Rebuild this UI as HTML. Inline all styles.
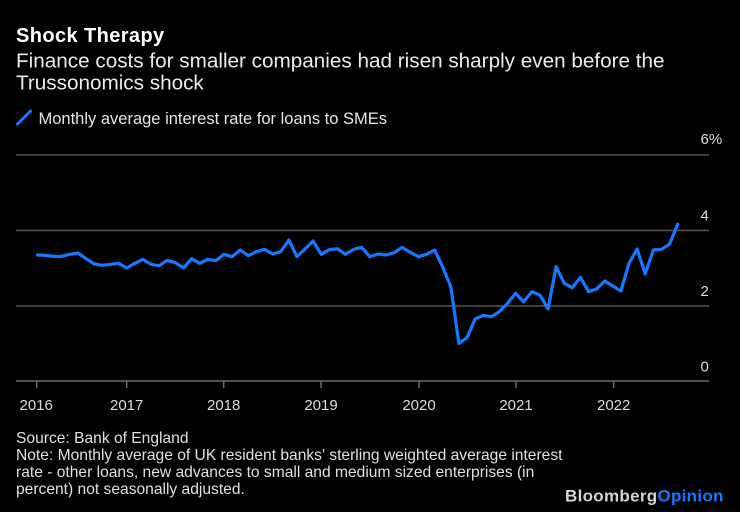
<!DOCTYPE html>
<html>
<head>
<meta charset="utf-8">
<style>
  html, body { margin: 0; padding: 0; background: #000; }
  body { width: 740px; height: 512px; overflow: hidden; }
  svg { display: block; }
  text { font-family: "Liberation Sans", Arial, sans-serif; }
</style>
</head>
<body>
<svg width="740" height="512" viewBox="0 0 740 512" xmlns="http://www.w3.org/2000/svg">
  <rect x="0" y="0" width="740" height="512" fill="#000"/>

  <!-- Title & subtitle -->
  <text x="16" y="42" font-size="20" font-weight="bold" fill="#ffffff" letter-spacing="0.4">Shock Therapy</text>
  <text x="16" y="67.5" font-size="20.7" fill="#ebebeb">Finance costs for smaller companies had risen sharply even before the</text>
  <text x="16" y="89.5" font-size="20.7" fill="#ebebeb">Trussonomics shock</text>

  <!-- Legend -->
  <line x1="17.5" y1="124" x2="30.5" y2="111" stroke="#1479ff" stroke-width="3" stroke-linecap="round"/>
  <text x="38.5" y="124" font-size="16.5" fill="#e6e6e6">Monthly average interest rate for loans to SMEs</text>

  <!-- Gridlines -->
  <g stroke="#555" stroke-width="1.5">
    <line x1="16" y1="155" x2="709" y2="155"/>
    <line x1="16" y1="230.5" x2="709" y2="230.5"/>
    <line x1="16" y1="306" x2="709" y2="306"/>
  </g>
  <line x1="16" y1="381" x2="709" y2="381" stroke="#6a6a6a" stroke-width="1.5"/>

  <!-- Ticks -->
  <g stroke="#6a6a6a" stroke-width="1.5">
    <line x1="36.7" y1="381" x2="36.7" y2="388"/>
    <line x1="126.7" y1="381" x2="126.7" y2="388"/>
    <line x1="223.7" y1="381" x2="223.7" y2="388"/>
    <line x1="321" y1="381" x2="321" y2="388"/>
    <line x1="419" y1="381" x2="419" y2="388"/>
    <line x1="516" y1="381" x2="516" y2="388"/>
    <line x1="613.7" y1="381" x2="613.7" y2="388"/>
  </g>

  <!-- X labels -->
  <g font-size="15" fill="#dcdcdc" text-anchor="middle">
    <text x="36.2" y="410">2016</text>
    <text x="126.7" y="410">2017</text>
    <text x="223.7" y="410">2018</text>
    <text x="321" y="410">2019</text>
    <text x="419" y="410">2020</text>
    <text x="516" y="410">2021</text>
    <text x="613.7" y="410">2022</text>
  </g>

  <!-- Y labels -->
  <g font-size="15" fill="#dcdcdc">
    <text x="700.5" y="144">6%</text>
    <text x="700.5" y="220.5">4</text>
    <text x="700.5" y="296">2</text>
    <text x="700.5" y="371.5">0</text>
  </g>

  <!-- Series -->
  <polyline fill="none" stroke="#1479ff" stroke-width="3.2" stroke-linejoin="round" stroke-linecap="round"
    points="37.4,255 45.5,255.3 53.6,256.3 61.7,256.3 69.8,254.3 78,253 86.1,258.7 94.2,264 102.3,265.3 110.4,264.3 118.6,263.3 126.7,268 134.8,263.3 142.9,259.3 151,264.3 159.1,265.7 167.2,260.3 175.4,262.7 183.5,268 191.6,258.7 199.7,263.3 207.8,259.3 215.9,260.7 224,254.3 232.1,256.7 240.2,250 248.3,255.7 256.4,251.7 264.5,249.3 272.6,254 280.7,251.7 288.8,240 296.9,256.7 305,249 313.1,241 321.2,254.3 329.3,249.7 337.4,248.7 345.5,254.3 353.6,249.3 361.7,247.3 369.8,256.7 377.9,254 386,255 394.1,252.7 402.2,247.3 410.3,252.3 418.4,256.7 426.5,254.3 434.6,250 442.7,267 450.8,286.7 458.9,343.5 467,337.7 475.1,319 483.2,315.3 491.3,316.7 499.4,311.7 507.5,303.3 515.6,293.3 523.7,301.7 531.8,291.7 539.9,295 548,309 556.1,266.7 564.2,283.3 572.3,287.7 580.4,277.3 588.5,291.7 596.6,289 604.7,281 612.8,286 620.9,291 629,263.3 637.1,249 645.2,274 653.3,250 661.4,249.3 669.5,244.3 677.6,224.3"/>

  <!-- Footer -->
  <g font-size="15.6" fill="#e0e0e0">
    <text x="16" y="443">Source: Bank of England</text>
    <text x="16" y="460">Note: Monthly average of UK resident banks' sterling weighted average interest</text>
    <text x="16" y="477">rate - other loans, new advances to small and medium sized enterprises (in</text>
    <text x="16" y="494">percent) not seasonally adjusted.</text>
  </g>

  <!-- Logo -->
  <text x="565" y="501.5" font-size="17" font-weight="bold" letter-spacing="0.3"><tspan fill="#d4d4d4">Bloomberg</tspan><tspan fill="#1479ff">Opinion</tspan></text>
</svg>
</body>
</html>
